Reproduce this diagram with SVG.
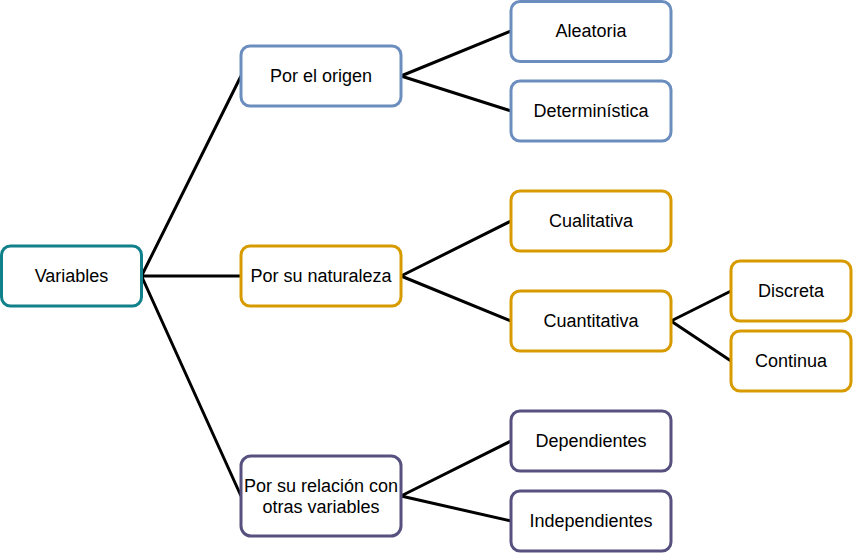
<svg xmlns="http://www.w3.org/2000/svg" width="853" height="553" viewBox="0 0 853 553">
<style>
rect{fill:#fff;stroke-width:3}
.t{stroke:#10808a}.b{stroke:#6c8ebf}.g{stroke:#d79b00}.p{stroke:#56517e}
text{font-family:"Liberation Sans",Arial,sans-serif;font-size:18px;fill:#000;text-anchor:middle;dominant-baseline:central}
#edges path{stroke:#000;stroke-width:3;fill:none}
</style>
<rect width="853" height="553" fill="#fff" stroke="none"/>
<g id="edges">
<path d="M141.5 276L241 76M141.5 276L241 276M141.5 276L241 496"/>
<path d="M401 76L511 31M401 76L511 111"/>
<path d="M401 276L511 221M401 276L511 321"/>
<path d="M671 321L731 291M671 321L731 361"/>
<path d="M401 496L511 441M401 496L511 521"/>
</g>
<g id="variables"><rect class="t" x="1.5" y="246" width="140" height="60" rx="9"/><text x="71.5" y="276">Variables</text></g>
<g id="origen"><rect class="b" x="241" y="46" width="160" height="60" rx="9"/><text x="321" y="76">Por el origen</text></g>
<g id="aleatoria"><rect class="b" x="511" y="1.5" width="160" height="60" rx="9"/><text x="591" y="31">Aleatoria</text></g>
<g id="deterministica"><rect class="b" x="511" y="81" width="160" height="60" rx="9"/><text x="591" y="111">Determinística</text></g>
<g id="naturaleza"><rect class="g" x="241" y="246" width="160" height="60" rx="9"/><text x="321" y="276">Por su naturaleza</text></g>
<g id="cualitativa"><rect class="g" x="511" y="191" width="160" height="60" rx="9"/><text x="591" y="221">Cualitativa</text></g>
<g id="cuantitativa"><rect class="g" x="511" y="291" width="160" height="60" rx="9"/><text x="591" y="321">Cuantitativa</text></g>
<g id="discreta"><rect class="g" x="731" y="261" width="120" height="60" rx="9"/><text x="791" y="291">Discreta</text></g>
<g id="continua"><rect class="g" x="731" y="331" width="120" height="60" rx="9"/><text x="791" y="361">Continua</text></g>
<g id="relacion"><rect class="p" x="241" y="456" width="160" height="80" rx="10"/><text x="321" y="486">Por su relación con</text><text x="321" y="507">otras variables</text></g>
<g id="dependientes"><rect class="p" x="511" y="411" width="160" height="60" rx="9"/><text x="591" y="441">Dependientes</text></g>
<g id="independientes"><rect class="p" x="511" y="491" width="160" height="60" rx="9"/><text x="591" y="521">Independientes</text></g>
</svg>
